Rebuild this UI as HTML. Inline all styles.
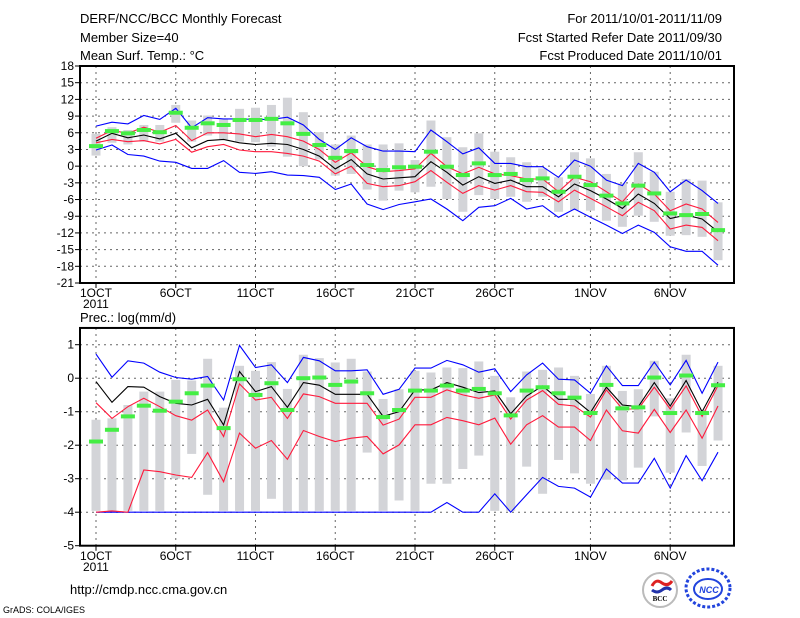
<!DOCTYPE html>
<html><head><meta charset="utf-8"><style>
html,body{margin:0;padding:0;background:#fff;}
svg{display:block;font-family:"Liberation Sans",sans-serif;}
</style></head><body>
<svg id="chart" width="800" height="618" viewBox="0 0 800 618">
<g font-size="13" fill="#000">
<text x="80" y="23">DERF/NCC/BCC Monthly Forecast</text>
<text x="80" y="42">Member Size=40</text>
<text x="80" y="60">Mean Surf. Temp.: °C</text>
<text x="722" y="23" text-anchor="end">For 2011/10/01-2011/11/09</text>
<text x="722" y="42" text-anchor="end">Fcst Started Refer Date 2011/09/30</text>
<text x="722" y="60" text-anchor="end">Fcst Produced Date 2011/10/01</text>
</g>
<text x="80" y="322" font-size="13">Prec.: log(mm/d)</text>
<text x="70" y="594" font-size="13">http://cmdp.ncc.cma.gov.cn</text>
<text x="3" y="613" font-size="9">GrADS: COLA/IGES</text>
<g>
<circle cx="660" cy="590" r="17" fill="#fff" stroke="#bbb" stroke-width="2"/>
<path d="M652 586 q4 -8 10 -3 q6 4 10 -2" stroke="#d22" stroke-width="3" fill="none"/>
<path d="M652 590 q5 4 10 0 q5 -4 9 0" stroke="#23a" stroke-width="3" fill="none"/>
<text x="660" y="601" font-size="7" text-anchor="middle" font-family="Liberation Serif,serif" font-weight="bold">BCC</text>
</g>
<g>
<ellipse cx="708" cy="588" rx="22" ry="19" fill="#fff" stroke="#24d" stroke-width="3" stroke-dasharray="3 2"/>
<ellipse cx="708" cy="589" rx="14" ry="10" fill="none" stroke="#24d" stroke-width="2"/>
<text x="709" y="593" font-size="9" fill="#24d" text-anchor="middle" font-style="italic" font-weight="bold">NCC</text>
</g>
<g id="top"></g>
<g id="bot"></g>
</svg>
<script>
// ---- temperature data (days 1..40) ----
const tDays = Array.from({length:40},(_,i)=>i+1);
const tBarMax = [5.8,7,6.5,7.4,7.4,11,8.2,9.1,8.4,10.3,10.5,11,12.3,9.7,6.1,3.9,5.5,3.9,3.9,4.1,1.1,8.2,5.2,3.4,5.9,2.6,1.6,0.7,-0.4,-2,2.5,1.4,-1.4,-3.1,2.5,-1,-4.6,-2.3,-2.6,-6.5];
const tBarMin = [1.9,4.2,3.9,4.4,4.4,7.8,4.4,5.5,4.8,4.4,4.3,3.5,1.7,0,1.2,-1.7,-1.4,-4.2,-6.2,-4.4,-4.7,-3.7,-5.9,-8.2,-5.2,-5.9,-5.5,-6.4,-5.5,-8.2,-7.9,-8,-9.8,-10.9,-8.9,-10,-12.5,-12.4,-12.7,-16.9];
const tMean = [4.5,5.9,5.1,5.6,4.9,5.9,3.3,4.6,4.8,4.2,3.9,4.1,3.9,3.0,1.8,-0.5,1.2,-1.4,-2.3,-2.1,-1.9,0.8,-1.1,-3.4,-1.9,-3.1,-2.5,-3.7,-3.7,-5.5,-3.2,-4.4,-5.9,-7.6,-5,-6.7,-9.4,-8.8,-9.5,-11.8];
const tRedHi = [5,6.4,5.9,7,6.1,7.3,4.6,6,6,5.8,5.3,5.7,5.3,4.5,3,0.7,2.4,-0.1,-1,-0.8,-0.5,2.3,-0.1,-1.4,-0.2,-1.4,-1.7,-2.3,-2.3,-4.6,-2,-2.8,-4.6,-6.4,-3.2,-5,-8,-6.8,-7.7,-10.1];
const tRedLo = [4.2,4.8,4.4,4.6,4,4.8,2.5,3.5,3.9,2.9,2.6,2.6,2.3,1.8,0.9,-1.4,0,-3.1,-3.7,-3.5,-2.8,-0.8,-2.9,-4.9,-3.5,-4.3,-3.5,-4.6,-4.7,-6.4,-4.3,-5.8,-7.3,-8.9,-6.5,-8,-11.3,-10.6,-11,-13.4];
const tBlueHi = [7.2,7.9,7.6,9.1,8.4,10.4,6.9,8.7,8.5,8.5,8.4,8.4,8.8,7.4,4.8,3,5.1,3.5,2.7,2.7,2.6,6.5,4.4,2.2,3.3,0.5,0.5,-0.1,-0.1,-2,1.1,0,-2.5,-3.5,0.5,-1.1,-4.6,-2.5,-4.4,-6.7];
const tBlueLo = [2.9,3.8,2.1,1.8,0.9,0.7,-0.4,-0.4,1.0,-1.1,-1.3,-1,-1.6,-1.7,-2,-4.2,-3.2,-6.8,-7.8,-6.9,-6.4,-5.9,-7.7,-9.8,-7.4,-7.1,-5.8,-7.7,-7.1,-9.2,-7.7,-9.2,-10.6,-12.1,-10.6,-11.9,-14.5,-15.3,-15.3,-17.8];
const tObs = [3.6,6.3,5.9,6.5,6.1,9.6,6.9,7.7,7.4,8.3,8.3,8.5,7.7,5.8,3.8,1.5,2.7,0.2,-0.7,-0.2,-0.1,2.6,-0.1,-1.6,0.5,-1.6,-1.4,-2.5,-2.2,-4.6,-1.9,-3.4,-5.3,-6.7,-3.5,-4.9,-8.5,-8.8,-8.6,-11.5];
const tTicks = [18,15,12,9,6,3,0,-3,-6,-9,-12,-15,-18,-21];
const tTickLabels = ["18","15","12","9","6","3","0","-3","-6","-9","-12","-15","-18","-21"];
// ---- precipitation data ----
const pBarMax = [-1.24,-1.2,-0.8,-0.4,-0.4,-0.05,-0.07,0.58,-0.88,0.37,0.22,0.48,-0.32,0.7,0.6,0.47,0.58,0.2,-0.62,-0.33,0.22,0.17,0.32,0.3,0.5,0.07,-0.57,0.2,0.25,0.32,0.07,-0.47,0.37,-0.38,-0.33,0.52,-0.6,0.7,-0.94,0.37];
const pBarMin = [-3.96,-3.96,-3.96,-3.96,-3.96,-3.0,-2.26,-3.48,-3.96,-3.96,-3.96,-3.6,-3.96,-3.96,-3.96,-3.96,-3.96,-2.22,-3.96,-3.65,-3.96,-3.15,-3.15,-2.71,-2.31,-3.96,-3.96,-2.64,-3.45,-2.44,-2.84,-3.15,-3.03,-3.05,-2.67,-1.14,-2.82,-1.62,-2.62,-1.86];
const pMean = [-0.1,-0.72,-0.25,-0.27,-0.55,-0.75,-0.8,-0.63,-1.4,0.2,-0.4,-0.25,-0.87,-0.13,-0.21,-0.48,-0.48,-0.48,-1.14,-1.0,-0.35,-0.35,-0.13,-0.27,-0.43,-0.38,-1.06,-0.53,-0.23,-0.63,-0.63,-1.02,-0.27,-0.8,-0.85,-0.13,-0.83,-0.07,-1,-0.12];
const pRedHi = [-0.73,-1.2,-0.85,-0.6,-0.85,-1.12,-1.25,-0.95,-1.74,-0.17,-0.65,-0.57,-1.2,-0.47,-0.55,-0.75,-0.75,-0.75,-1.4,-1.22,-0.57,-0.57,-0.35,-0.5,-0.6,-0.5,-1.22,-0.65,-0.37,-0.78,-0.83,-1.16,-0.35,-0.92,-0.92,-0.27,-0.92,-0.23,-1.14,-0.22];
const pRedLo = [-4,-3.96,-4,-2.74,-2.79,-2.89,-2.96,-2.22,-3.09,-1.64,-2.09,-1.86,-2.42,-1.56,-1.74,-1.89,-1.79,-1.74,-2.26,-1.99,-1.39,-1.39,-1.17,-1.27,-1.39,-1.19,-1.97,-1.39,-1.12,-1.46,-1.46,-1.86,-0.95,-1.57,-1.64,-0.93,-1.62,-0.95,-1.79,-0.83];
const pBlueHi = [0.72,0.03,0.52,0.45,0.18,0.02,-0.03,0.05,-0.65,0.98,0.32,0.4,-0.13,0.62,0.52,0.22,0.22,0.25,-0.48,-0.33,0.3,0.3,0.53,0.4,0.18,0.28,-0.4,0.1,0.45,-0.03,-0.05,-0.45,0.37,-0.22,-0.22,0.48,-0.2,0.53,-0.45,0.48];
const pBlueLo = [-4,-4,-4,-4,-4,-4,-4,-4,-4,-4,-4,-4,-4,-4,-4,-4,-4,-4,-4,-4,-4,-4,-3.71,-4,-4,-3.45,-4,-3.48,-2.96,-3.23,-3.28,-3.55,-2.71,-3.13,-3.13,-2.39,-3.28,-2.31,-3.06,-2.21];
const pObs = [-1.89,-1.54,-1.14,-0.82,-0.97,-0.7,-0.45,-0.22,-1.49,-0.03,-0.5,-0.15,-0.95,0,0.02,-0.2,-0.1,-0.45,-1.16,-0.95,-0.37,-0.37,-0.22,-0.37,-0.32,-0.45,-1.11,-0.37,-0.27,-0.45,-0.58,-1.04,-0.2,-0.9,-0.87,0.02,-1.04,0.08,-1.04,-0.21];
const pTicks = [1,0,-1,-2,-3,-4,-5];
const pTickLabels = ["1","0","-1","-2","-3","-4","-5"];
const dateTicks = [1,6,11,16,21,26,32,37];
const dateLabels = ["1OCT","6OCT","11OCT","16OCT","21OCT","26OCT","1NOV","6NOV"];

const NS="http://www.w3.org/2000/svg";
const X0=80,X1=734;
const xOf=d=>96+(d-1)*15.95;
function mk(parent,tag,attrs){const e=document.createElementNS(NS,tag);for(const k in attrs)e.setAttribute(k,attrs[k]);parent.appendChild(e);return e;}

function panel(g,top,bot,vmax,vmin,ticks,tickLabels,barMax,barMin,blueHi,blueLo,redHi,redLo,mean,obs,labY){
  const yOf=v=>top+(vmax-v)/(vmax-vmin)*(bot-top);
  ticks.forEach((t,i)=>{
    const y=yOf(t);
    const gl=mk(g,'line',{x1:X0,x2:X1,y1:y,y2:y,stroke:'#666','stroke-dasharray':'2 4','stroke-width':1});
    
    
    mk(g,'line',{x1:X0-5,x2:X0,y1:y,y2:y,stroke:'#000'});
    const tx=mk(g,'text',{x:X0-6,y:y+4,'font-size':12,'text-anchor':'end'});
    tx.textContent=tickLabels[i];
    
    
  });
  dateTicks.forEach((d,i)=>{
    const x=xOf(d);
    const gl=mk(g,'line',{x1:x,x2:x,y1:top,y2:bot,stroke:'#666','stroke-dasharray':'2 4'});
    
    
    mk(g,'line',{x1:x,x2:x,y1:bot,y2:bot+5,stroke:'#000'});
    const tx=mk(g,'text',{x:x,y:labY,'font-size':12,'text-anchor':'middle'});
    tx.textContent=dateLabels[i];
    
    
  });
  const yr=mk(g,'text',{x:83,y:labY+11,'font-size':12});
  yr.textContent='2011';
  
  
  tDays.forEach((d,i)=>{
    const y1=yOf(barMax[i]),y2=yOf(barMin[i]);
    const r=mk(g,'rect',{x:xOf(d)-4.5,y:y1,width:9,height:Math.max(1,y2-y1),fill:'#d3d4d8'});
    
    
  });
  const series=[[blueHi,'#0000ff','blue-upper-line'],[blueLo,'#0000ff','blue-lower-line'],[redHi,'#ff1a3c','red-upper-line'],[redLo,'#ff1a3c','red-lower-line'],[mean,'#000','ensemble-mean-line']];
  series.forEach(s=>{
    const pts=s[0].map((v,i)=>xOf(tDays[i]).toFixed(1)+','+yOf(v).toFixed(1)).join(' ');
    const p=mk(g,'polyline',{points:pts,fill:'none',stroke:s[1],'stroke-width':1.1});
    
    
  });
  obs.forEach((v,i)=>{
    const r=mk(g,'rect',{x:xOf(tDays[i])-7,y:yOf(v)-2,width:14,height:4,fill:'#44ee44'});
    
    
  });
  const b=mk(g,'rect',{x:X0,y:top,width:X1-X0,height:bot-top,fill:'none',stroke:'#000','stroke-width':2});
  
  
}
panel(document.getElementById('top'),66,283,18,-21,tTicks,tTickLabels,tBarMax,tBarMin,tBlueHi,tBlueLo,tRedHi,tRedLo,tMean,tObs,297);
panel(document.getElementById('bot'),344.7-33.5*0.5,545.7,1.5,-5,pTicks,pTickLabels,pBarMax,pBarMin,pBlueHi,pBlueLo,pRedHi,pRedLo,pMean,pObs,560);
</script>
</body></html>
